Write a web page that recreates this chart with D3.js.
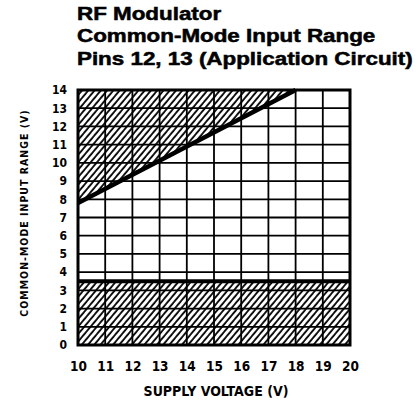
<!DOCTYPE html>
<html><head><meta charset="utf-8">
<script src="https://cdn.jsdelivr.net/npm/d3@7"></script>
<style>body{margin:0;background:#fff}svg{display:block}</style>
</head><body>
<script>
const titleLines = ["RF Modulator", "Common-Mode Input Range", "Pins 12, 13 (Application Circuit)"];
const xTicks = [10, 11, 12, 13, 14, 15, 16, 17, 18, 19, 20];
const yTicks = [0, 1, 2, 3, 4, 5, 6, 7, 8, 9, 10, 11, 12, 13, 14];
const upperLimitX = [10, 18];
const upperLimitY = [7.8, 14];
const lowerLimit = 3.5;
const xLabel = "SUPPLY VOLTAGE (V)";
const yLabel = "COMMON-MODE INPUT RANGE (V)";

const W = 419, H = 402;
const m = {left: 78, top: 90, right: 69, bottom: 57};
const svg = d3.select("body").append("svg").attr("width", W).attr("height", H);
const x = d3.scaleLinear().domain([10, 20]).range([m.left, W - m.right]);
const y = d3.scaleLinear().domain([0, 14]).range([H - m.bottom, m.top]);

const defs = svg.append("defs");
const pat = defs.append("pattern").attr("id", "hatch").attr("patternUnits", "userSpaceOnUse")
  .attr("width", 4.8).attr("height", 10).attr("patternTransform", "rotate(40)");
pat.append("line").attr("x1", 1).attr("y1", -1).attr("x2", 1).attr("y2", 11)
  .attr("stroke", "#000").attr("stroke-width", 1.8);

const condensed = "'DejaVu Sans Condensed', 'Liberation Sans Narrow', 'Arial Narrow', sans-serif";

// title (horizontally widened heavy sans)
const sx = 1.28;
svg.append("g").attr("transform", `scale(${sx},1)`).selectAll("text").data(titleLines).join("text")
  .attr("x", 77 / sx).attr("y", (d, i) => 20 + i * 22.5)
  .attr("font-family", "'Liberation Sans', Arial, Helvetica, sans-serif")
  .attr("font-weight", "bold").attr("font-size", 17.5).attr("fill", "#000")
  .attr("stroke", "#000").attr("stroke-width", 0.5)
  .text(d => d);

// hatched regions
const upperPoly = [[upperLimitX[0], upperLimitY[0]], [upperLimitX[1], upperLimitY[1]], [upperLimitX[0], 14]];
svg.append("path").attr("d", d3.line().x(d => x(d[0])).y(d => y(d[1]))(upperPoly) + "Z")
  .attr("fill", "url(#hatch)");
svg.append("rect").attr("x", x(10)).attr("y", y(lowerLimit))
  .attr("width", x(20) - x(10)).attr("height", y(0) - y(lowerLimit))
  .attr("fill", "url(#hatch)");

// grid
const g = svg.append("g");
g.selectAll("line.v").data(xTicks).join("line").attr("class", "v")
  .attr("x1", d => x(d)).attr("x2", d => x(d)).attr("y1", y(0)).attr("y2", y(14))
  .attr("stroke", "#000").attr("stroke-width", 1.8);
g.selectAll("line.h").data(yTicks).join("line").attr("class", "h")
  .attr("y1", d => y(d)).attr("y2", d => y(d)).attr("x1", x(10)).attr("x2", x(20))
  .attr("stroke", "#000").attr("stroke-width", 1.8);
svg.append("rect").attr("x", x(10)).attr("y", y(14)).attr("width", x(20) - x(10)).attr("height", y(0) - y(14))
  .attr("fill", "none").attr("stroke", "#000").attr("stroke-width", 3);

// limit lines
svg.append("path").attr("d", d3.line().x(d => x(d[0])).y(d => y(d[1]))(upperLimitX.map((v, i) => [v, upperLimitY[i]])))
  .attr("stroke", "#000").attr("stroke-width", 4.5).attr("fill", "none");
svg.append("line").attr("x1", x(10)).attr("x2", x(20)).attr("y1", y(lowerLimit)).attr("y2", y(lowerLimit))
  .attr("stroke", "#000").attr("stroke-width", 4);

// axes
const xAxis = svg.append("g").attr("transform", `translate(0,${y(0)})`)
  .call(d3.axisBottom(x).tickValues(xTicks).tickSize(0).tickFormat(d3.format("d")));
xAxis.select(".domain").remove();
xAxis.selectAll("text").attr("y", 26).attr("dy", null)
  .attr("font-family", condensed).attr("font-weight", "bold").attr("font-size", 13.5).attr("fill", "#000");

const yAxis = svg.append("g").attr("transform", `translate(${x(10) - 8},0)`)
  .call(d3.axisLeft(y).tickValues(yTicks).tickSize(0).tickFormat(d3.format("d")));
yAxis.select(".domain").remove();
yAxis.selectAll("text").attr("font-family", condensed).attr("font-weight", "bold").attr("font-size", 12).attr("fill", "#000");

svg.append("text").attr("x", 216).attr("y", 396).attr("text-anchor", "middle")
  .attr("font-family", condensed).attr("font-weight", "bold").attr("font-size", 14).text(xLabel);
svg.append("text").attr("transform", `translate(28,213) rotate(-90)`).attr("text-anchor", "middle")
  .attr("font-family", condensed).attr("font-weight", "bold").attr("font-size", 10.5)
  .attr("letter-spacing", 1).text(yLabel);
</script>
</body></html>
